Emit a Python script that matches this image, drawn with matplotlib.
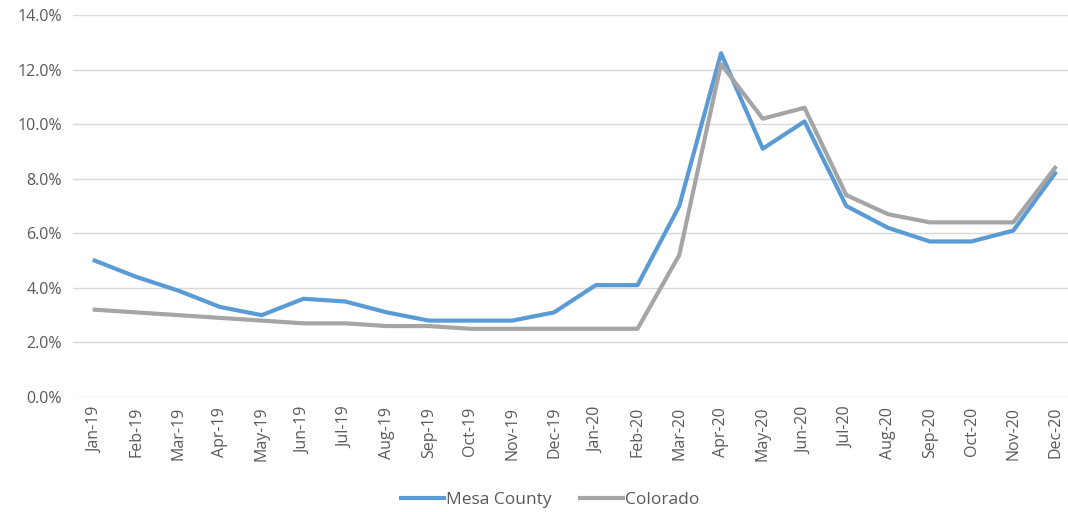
import matplotlib
matplotlib.use('Agg')
import matplotlib.pyplot as plt
from matplotlib.ticker import FuncFormatter

months = ['Jan-19', 'Feb-19', 'Mar-19', 'Apr-19', 'May-19', 'Jun-19', 'Jul-19', 'Aug-19',
          'Sep-19', 'Oct-19', 'Nov-19', 'Dec-19', 'Jan-20', 'Feb-20', 'Mar-20', 'Apr-20',
          'May-20', 'Jun-20', 'Jul-20', 'Aug-20', 'Sep-20', 'Oct-20', 'Nov-20', 'Dec-20']
mesa = [5.0, 4.4, 3.9, 3.3, 3.0, 3.6, 3.5, 3.1, 2.8, 2.8, 2.8, 3.1,
        4.1, 4.1, 7.0, 12.6, 9.1, 10.1, 7.0, 6.2, 5.7, 5.7, 6.1, 8.2]
colorado = [3.2, 3.1, 3.0, 2.9, 2.8, 2.7, 2.7, 2.6, 2.6, 2.5, 2.5, 2.5,
            2.5, 2.5, 5.2, 12.2, 10.2, 10.6, 7.4, 6.7, 6.4, 6.4, 6.4, 8.4]

plt.rcParams['font.family'] = ['Open Sans', 'DejaVu Sans']
text_color = '#595959'

fig = plt.figure(figsize=(10.68, 5.12), dpi=100)
ax = fig.add_axes([73 / 1068, 1 - 397 / 512, 1 - 73 / 1068, (397 - 15) / 512])

x = range(len(months))
ax.plot(x, mesa, color='#5B9BD5', linewidth=3.0, label='Mesa County', solid_joinstyle='round')
ax.plot(x, colorado, color='#A5A5A5', linewidth=3.0, label='Colorado', solid_joinstyle='round')

ax.set_ylim(0, 14)
ax.set_xlim(-0.52, 23.31)
ax.set_yticks(range(0, 15, 2))
ax.yaxis.set_major_formatter(FuncFormatter(lambda v, p: f'{v:.1f}%'))
ax.set_xticks(list(x))
ax.set_xticklabels(months, rotation=90)
ax.grid(axis='y', color='#D9D9D9', linewidth=1)
ax.set_axisbelow(True)
for s in ax.spines.values():
    s.set_visible(False)
ax.tick_params(axis='both', length=0, colors=text_color, labelsize=11.5)
ax.tick_params(axis='y', pad=8)
ax.tick_params(axis='x', pad=7)

fig.legend(loc='center', bbox_to_anchor=(550 / 1068, 1 - 500 / 512), ncol=2, frameon=False,
           fontsize=12.5, labelcolor=text_color, handlelength=2.5, handletextpad=0.1, columnspacing=1.6)

fig.savefig('out.png', dpi=100)
